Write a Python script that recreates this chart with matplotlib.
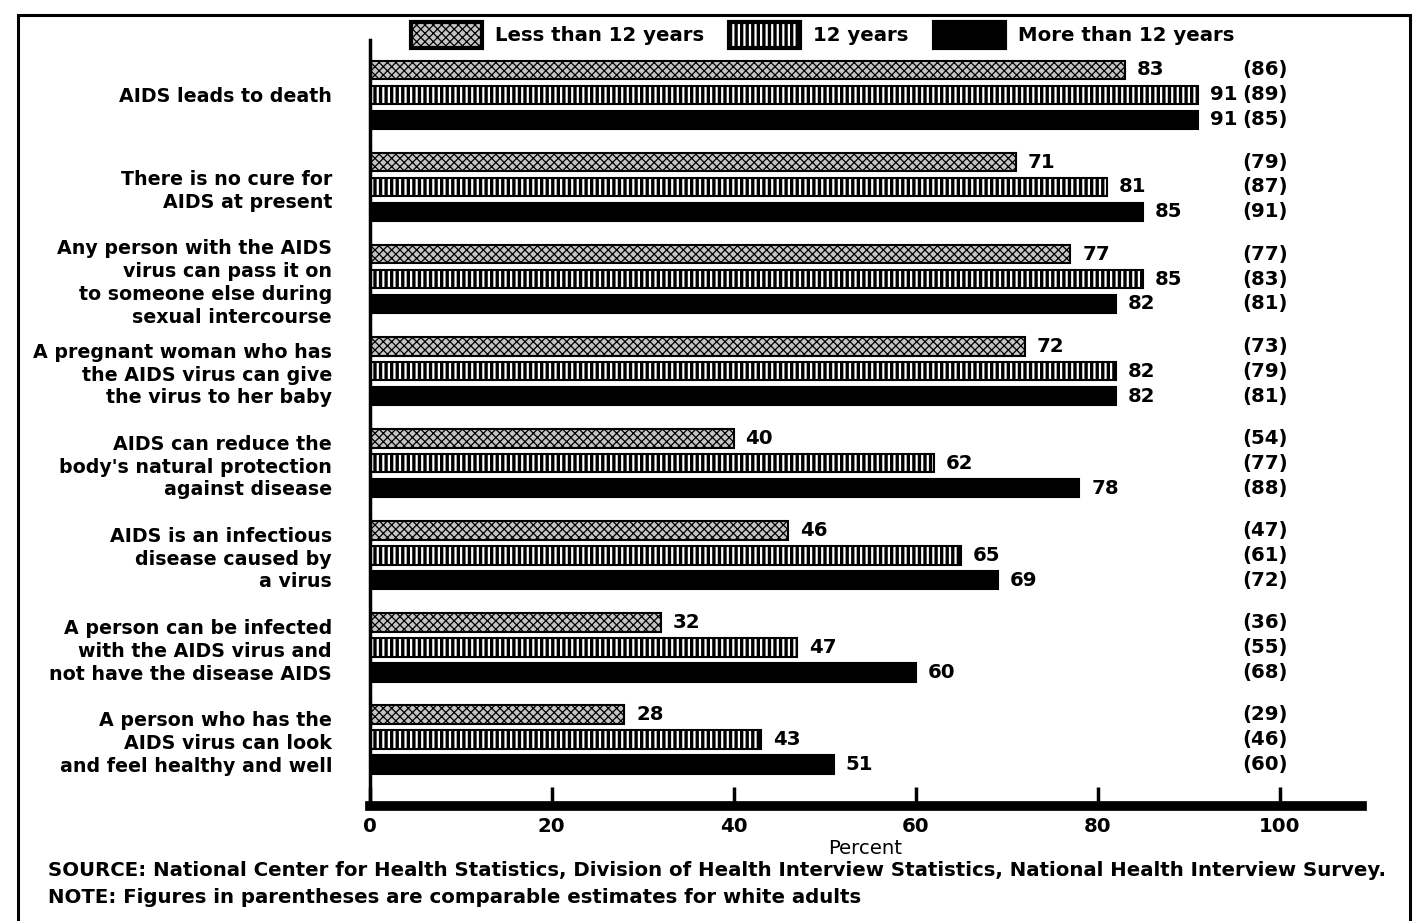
import numpy as np
import matplotlib.pyplot as plt
from matplotlib.patches import Patch, Rectangle

plt.rcParams['font.family'] = ['DejaVu Sans']
plt.rcParams['font.weight'] = 'bold'

categories = ['AIDS leads to death',
              'There is no cure for\nAIDS at present',
              'Any person with the AIDS\nvirus can pass it on\nto someone else during\nsexual intercourse',
              'A pregnant woman who has\nthe AIDS virus can give\nthe virus to her baby',
              'AIDS can reduce the\nbody\'s natural protection\nagainst disease',
              'AIDS is an infectious\ndisease caused by\na virus',
              'A person can be infected\nwith the AIDS virus and\nnot have the disease AIDS',
              'A person who has the\nAIDS virus can look\nand feel healthy and well']
series = ['Less than 12 years', '12 years', 'More than 12 years']
less12 = [83, 71, 77, 72, 40, 46, 32, 28]
eq12 = [91, 81, 85, 82, 62, 65, 47, 43]
more12 = [91, 85, 82, 82, 78, 69, 60, 51]
white_adults = [[86, 89, 85], [79, 87, 91], [77, 83, 81], [73, 79, 81],
                [54, 77, 88], [47, 61, 72], [36, 55, 68], [29, 46, 60]]
xticks = [0, 20, 40, 60, 80, 100]

styles = [dict(facecolor='#c4c4c4', hatch='xxxx'),
          dict(facecolor='white', hatch='|||'),
          dict(facecolor='black', hatch=None)]
hatch_lw = [0.9, 2.4, 1.0]
fs = 14.2

fig = plt.figure(figsize=(14.16, 9.21), dpi=100)
ax = fig.add_axes([0.261, 0.125, 0.7006, 0.832])

y = np.arange(len(categories))
offsets = [-0.27, 0.0, 0.27]
for vals, off, st, hl in zip([less12, eq12, more12], offsets, styles, hatch_lw):
    bars = ax.barh(y + off, vals, height=0.2, edgecolor='black', linewidth=1.5, **st)
    for b in bars:
        b.set_hatch_linewidth(hl)
    for yi, v in zip(y, vals):
        ax.text(v + 1.3, yi + off, str(v), va='center', ha='left', fontsize=fs)

for yi, trio in zip(y, white_adults):
    for off, w in zip(offsets, trio):
        ax.text(98.4, yi + off, '(%d)' % w, va='center', ha='center', fontsize=fs)

ax.set_xlim(0, 109)
ax.set_ylim(7.72, -0.6)
ax.set_yticks(y)
ax.set_yticklabels(categories, fontsize=13.7, linespacing=1.25)
ax.tick_params(axis='y', length=0, pad=27)
ax.set_xticks(xticks)
ax.set_xticklabels([str(t) for t in xticks], fontsize=fs)
ax.tick_params(axis='x', direction='in', length=14, width=2.5, pad=8)
ax.set_xlabel('Percent', fontsize=fs, labelpad=2)

ax.spines['top'].set_visible(False)
ax.spines['right'].set_visible(False)
ax.spines['bottom'].set_linewidth(7)
ax.spines['left'].set_linewidth(2.5)

handles = []
for st, hl in zip(styles, hatch_lw):
    h = Patch(edgecolor='black', linewidth=3, **st)
    h.set_hatch_linewidth(hl)
    handles.append(h)
leg = fig.legend(handles, series, loc='center', bbox_to_anchor=(0.581, 0.962), ncol=3,
                 frameon=False, fontsize=fs, handlelength=3.6, handleheight=1.7,
                 handletextpad=0.65, columnspacing=1.3)
for h, hl in zip(leg.legend_handles, hatch_lw):
    h.set_hatch_linewidth(hl)

fig.patches.append(Rectangle((18 / 1416, -0.02), 1392 / 1416, 0.02 + 906 / 921,
                             transform=fig.transFigure, fill=False,
                             edgecolor='black', linewidth=2.2))

fig.text(48 / 1416, 1 - 870 / 921, 'SOURCE: National Center for Health Statistics, Division of Health Interview Statistics, National Health Interview Survey.',
         fontsize=fs, va='center', ha='left')
fig.text(48 / 1416, 1 - 897 / 921, 'NOTE: Figures in parentheses are comparable estimates for white adults',
         fontsize=fs, va='center', ha='left')

fig.savefig('out.png', dpi=100)
